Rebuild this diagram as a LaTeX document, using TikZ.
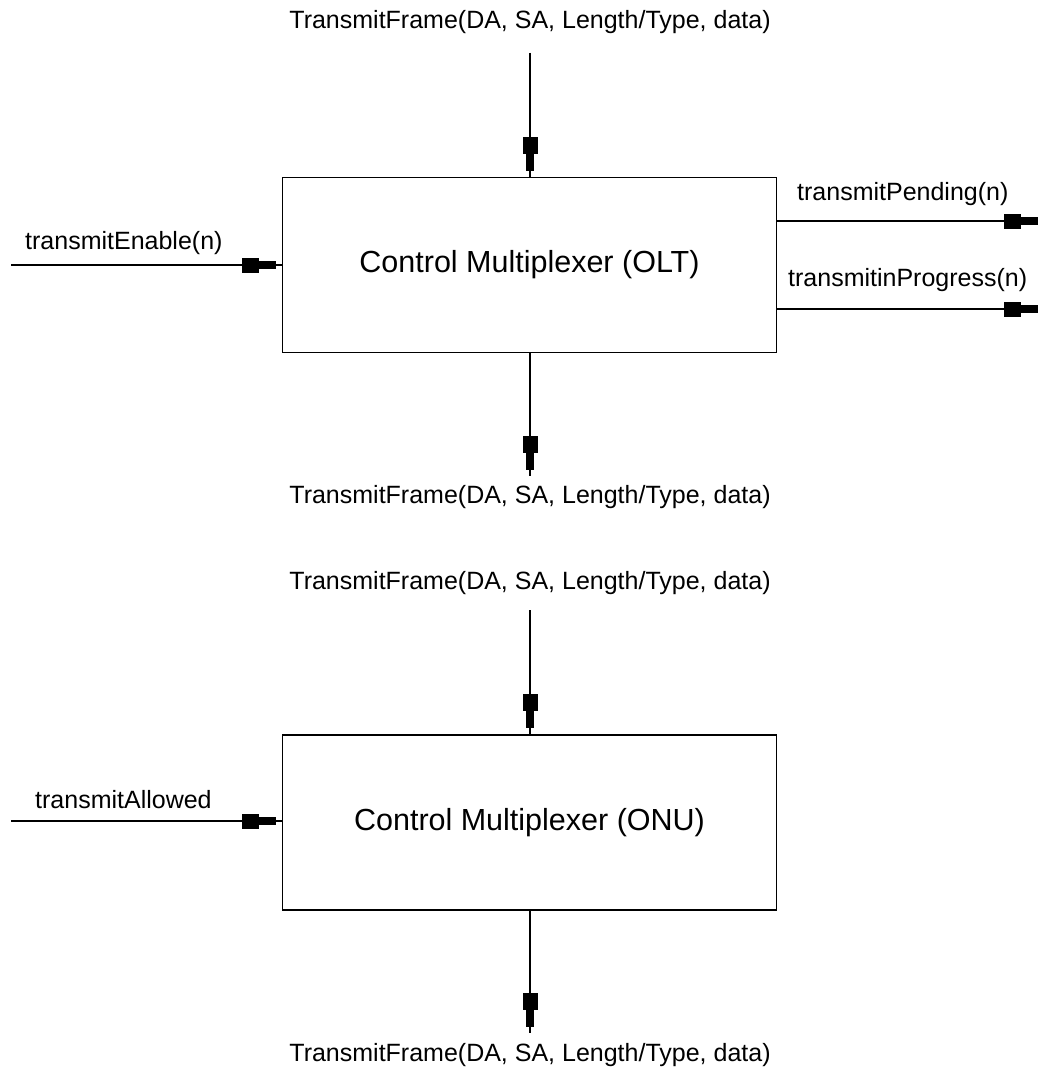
\documentclass[tikz,border=0pt]{standalone}
\usepackage{fontspec}
\setmainfont{Liberation Sans}
\usetikzlibrary{arrows.meta}
\begin{document}
\begin{tikzpicture}[x=1pt,y=-1pt,
  lbl/.style={inner sep=0pt, font=\fontsize{25}{30}\selectfont},
  mux/.style={draw, line width=1.6pt, minimum width=494pt, minimum height=175pt,
              inner sep=0pt, font=\fontsize{30.5}{36}\selectfont},
  wire/.style={line width=1.6pt,
    postaction={draw, line width=1.6pt, shorten >=6pt,
      -{Rectangle[length=17pt,width=15pt] Rectangle[length=17pt,width=8pt]}}},
]
\useasboundingbox (0,0) rectangle (1037,1070);

% ---- OLT multiplexer ----
\node[mux] (olt) at (529.5,265) {Control Multiplexer (OLT)};
\node[lbl] (oltIn) at (530,22) {TransmitFrame(DA, SA, Length/Type, data)};
\node[lbl] (oltOut) at (530,497) {TransmitFrame(DA, SA, Length/Type, data)};
\node[lbl,anchor=west] (enLbl) at (25,243) {transmitEnable(n)};
\node[lbl,anchor=west] (pendLbl) at (797,194) {transmitPending(n)};
\node[lbl,anchor=west] (progLbl) at (788,280) {transmitinProgress(n)};

\coordinate (oltTop) at (530,53);
\coordinate (oltBot) at (530,476);
\coordinate (enSrc) at (11,265);
\coordinate (pendDst) at (1044,221);
\coordinate (progDst) at (1044,309);

\draw[wire] (oltTop) -- (olt.north -| oltTop);
\draw[wire] (olt.south -| oltBot) -- (oltBot);
\draw[wire] (enSrc) -- (olt.west |- enSrc);
\draw[wire] (olt.east |- pendDst) -- (pendDst);
\draw[wire] (olt.east |- progDst) -- (progDst);

% ---- ONU multiplexer ----
\node[mux] (onu) at (529.5,822.5) {Control Multiplexer (ONU)};
\node[lbl] (onuIn) at (530,583) {TransmitFrame(DA, SA, Length/Type, data)};
\node[lbl] (onuOut) at (530,1055) {TransmitFrame(DA, SA, Length/Type, data)};
\node[lbl,anchor=west] (alLbl) at (35,800) {transmitAllowed};

\coordinate (onuTop) at (530,610);
\coordinate (onuBot) at (530,1033);
\coordinate (alSrc) at (11,821);

\draw[wire] (onuTop) -- (onu.north -| onuTop);
\draw[wire] (onu.south -| onuBot) -- (onuBot);
\draw[wire] (alSrc) -- (onu.west |- alSrc);
\end{tikzpicture}
\end{document}
